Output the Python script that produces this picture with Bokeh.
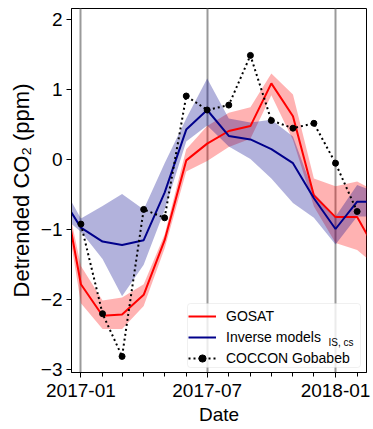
import pandas as pd
from bokeh.plotting import figure
from bokeh.models import (ColumnDataSource, FixedTicker, DatetimeTickFormatter,
                          Legend, LegendItem, Label, Range1d, BoxAnnotation)
from bokeh.embed import file_html
from bokeh.resources import INLINE

# Monthly detrended CO2 anomalies (ppm), first day of each month
months = pd.date_range("2016-12-01", "2018-03-01", freq="MS")

gosat_mean = [-0.10, -1.78, -2.23, -2.21, -1.93, -1.15, -0.01, 0.23,
              0.41, 0.48, 1.09, 0.62, -0.51, -0.82, -0.82, -1.31]
gosat_upper = [-0.05, -1.52, -2.01, -1.97, -1.78, -1.07, 0.15, 0.48,
               0.67, 0.75, 1.23, 0.93, -0.27, -0.38, -0.31, -0.46]
gosat_lower = [-0.15, -2.05, -2.42, -2.42, -2.09, -1.27, -0.17, -0.02,
               0.18, 0.30, 0.92, 0.28, -0.67, -1.19, -1.29, -1.52]

inverse_mean = [-0.48, -0.97, -1.17, -1.22, -1.15, -0.47, 0.43, 0.71,
                0.34, 0.29, 0.15, -0.05, -0.55, -0.99, -0.60, -0.60]
inverse_upper = [-0.29, -0.84, -0.66, -0.49, -0.71, -0.05, 0.59, 1.16,
                 0.59, 0.53, 0.57, 0.33, -0.48, -0.81, -0.36, -0.47]
inverse_lower = [-0.77, -1.03, -1.42, -1.95, -1.50, -0.72, 0.26, 0.49,
                 0.19, 0.01, -0.27, -0.62, -0.83, -1.21, -0.81, -0.81]

coccon_months = pd.date_range("2017-01-01", "2018-02-01", freq="MS")
coccon = [-0.92, -2.20, -2.81, -0.71, -0.83, 0.91, 0.71, 0.78,
          1.49, 0.56, 0.45, 0.52, -0.05, -0.74]

y_ticks = [-3, -2, -1, 0, 1, 2]
x_major = pd.to_datetime(["2017-01-01", "2017-07-01", "2018-01-01"])
x_minor = pd.date_range("2016-12-01", "2018-03-01", freq="MS")

FONT = "Liberation Sans"

src = ColumnDataSource(dict(
    date=months,
    g=gosat_mean, gu=gosat_upper, gl=gosat_lower,
    m=inverse_mean, mu=inverse_upper, ml=inverse_lower,
))
csrc = ColumnDataSource(dict(date=coccon_months, c=coccon))

p = figure(width=373, height=429, x_axis_type="datetime",
           output_backend="svg", toolbar_location=None,
           x_range=Range1d(pd.Timestamp("2016-12-18 12:00"),
                           pd.Timestamp("2018-02-14 10:00")),
           y_range=Range1d(-3.04, 2.16),
           min_border_left=71, min_border_right=7,
           min_border_top=8, min_border_bottom=57)

p.background_fill_color = "white"
p.border_fill_color = "white"
p.outline_line_color = "black"
p.outline_line_width = 1

# uncertainty bands
p.varea(x="date", y1="gl", y2="gu", source=src,
        fill_color="red", fill_alpha=0.3)
p.varea(x="date", y1="ml", y2="mu", source=src,
        fill_color="darkblue", fill_alpha=0.3)

# central estimates
r_gosat = p.line(x="date", y="g", source=src, line_color="red", line_width=2)
r_inv = p.line(x="date", y="m", source=src, line_color="darkblue", line_width=2)
r_cline = p.line(x="date", y="c", source=csrc, line_color="black",
                 line_width=2, line_dash="2 3")
r_cdots = p.scatter(x="date", y="c", source=csrc, size=6,
                    fill_color="black", line_color="black")

# axes
def ms(ts):
    return ts.value / 1e6

p.xaxis.ticker = FixedTicker(ticks=[ms(t) for t in x_major],
                             minor_ticks=[ms(t) for t in x_minor])
p.xaxis.formatter = DatetimeTickFormatter(
    years="%Y-%m", months="%Y-%m", days="%Y-%m", hours="%Y-%m",
    minutes="%Y-%m", seconds="%Y-%m", milliseconds="%Y-%m",
    microseconds="%Y-%m", hourmin="%Y-%m", minsec="%Y-%m")
p.yaxis.ticker = FixedTicker(ticks=y_ticks, minor_ticks=[])
p.yaxis.major_label_overrides = {t: str(t).replace("-", "\u2212") for t in y_ticks}

for ax in (p.xaxis, p.yaxis):
    ax.axis_line_color = "black"
    ax.major_tick_line_color = "black"
    ax.minor_tick_line_color = "black"
    ax.major_tick_in = 0
    ax.major_tick_out = 5
    ax.minor_tick_in = 0
    ax.minor_tick_out = 4
    ax.major_label_text_font = FONT
    ax.major_label_text_font_size = "19px"
    ax.major_label_text_color = "black"
    ax.axis_label_text_font = FONT
    ax.axis_label_text_font_style = "normal"
    ax.axis_label_text_color = "black"

p.xaxis.axis_label = "Date"
p.xaxis.axis_label_text_font_size = "19px"
p.xaxis.major_label_standoff = 6
p.xaxis.axis_label_standoff = 4
p.yaxis.axis_label = "Detrended CO\u2082 (ppm)"
p.yaxis.axis_label_text_font_size = "22px"
p.yaxis.major_label_standoff = 4
p.yaxis.axis_label_standoff = 4

p.xgrid.grid_line_color = "#9a9a9a"
p.xgrid.grid_line_width = 2
p.ygrid.grid_line_color = None

# legend frame: semi-opaque white box with light border, drawn over the grid
frame_box = BoxAnnotation(left=116, right=289, bottom=5, top=69,
                          left_units="screen", right_units="screen",
                          bottom_units="screen", top_units="screen",
                          fill_color="white", fill_alpha=0.8,
                          line_color="#cccccc", line_width=1,
                          border_radius=3, level="glyph")
p.add_layout(frame_box)

legend = Legend(items=[
    LegendItem(label="GOSAT", renderers=[r_gosat]),
    LegendItem(label="Inverse models", renderers=[r_inv]),
    LegendItem(label="COCCON Gobabeb", renderers=[r_cline, r_cdots]),
], location=(117, 5))
legend.label_text_font = FONT
legend.label_text_font_size = "14px"
legend.label_text_color = "black"
legend.glyph_width = 28
legend.glyph_height = 18
legend.label_height = 18
legend.spacing = 3
legend.padding = 2
legend.margin = 0
legend.label_standoff = 10
legend.border_line_color = None
legend.background_fill_color = None
p.add_layout(legend)

# subscript on the inverse-model legend entry
p.add_layout(Label(x=257, y=30, x_units="screen", y_units="screen",
                   text="IS, cs", text_font=FONT, text_font_size="10px",
                   text_color="black", text_baseline="alphabetic",
                   level="overlay"))

open("out.html", "w").write(file_html(p, INLINE))
